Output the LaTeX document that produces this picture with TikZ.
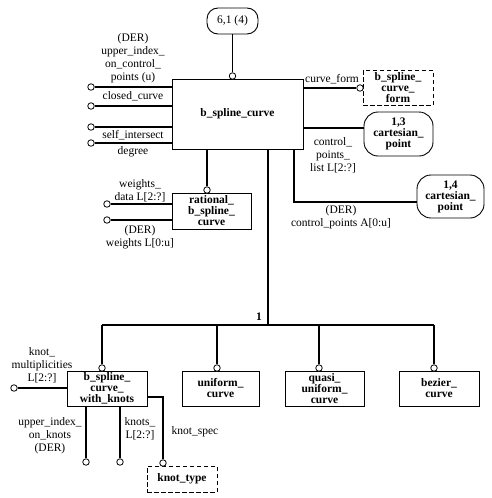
\documentclass[tikz,border=0pt]{standalone}
\usepackage{fontspec}
\setmainfont{Liberation Serif}

\tikzset{
  ent/.style={draw, line width=0.9pt, inner sep=0pt, align=center,
    font=\fontsize{11.5}{11}\selectfont\bfseries},
  pageref/.style={ent, rounded corners=14pt},
  seltype/.style={ent, dash pattern=on 4.5pt off 2.5pt},
  oc/.style={circle, draw, line width=0.8pt, fill=white, inner sep=0pt, minimum size=6.5pt},
  lbl/.style={inner sep=0pt, align=center, font=\fontsize{11.5}{13}\selectfont},
  conn/.style={line width=1.1pt},
  tree/.style={line width=1.6pt}
}

\begin{document}
\begin{tikzpicture}[x=1pt,y=-1pt]
\useasboundingbox (0,0) rectangle (491,498);

% entities
\node[ent, minimum width=131pt, minimum height=70pt] (bsc) at (237.5,114) {b\_spline\_curve};
\node[pageref, font=\fontsize{11.5}{11}\selectfont, minimum width=51pt, minimum height=26pt, rounded corners=11pt] (pg61) at (232.5,21) {6,1 (4)};
\node[seltype, minimum width=70pt, minimum height=35pt] (bscf) at (398,87.5) {b\_spline\_\\curve\_\\form};
\node[pageref, minimum width=69pt, minimum height=44pt] (cp13) at (398.5,134) {1,3\\cartesian\_\\point};
\node[pageref, minimum width=67pt, minimum height=43pt] (cp14) at (450.5,196.5) {1,4\\cartesian\_\\point};
\node[ent, minimum width=79pt, minimum height=36pt] (rbsc) at (211.5,211) {rational\_\\b\_spline\_\\curve};
\node[ent, minimum width=80pt, minimum height=35pt] (bscwk) at (107,388.5) {b\_spline\_\\curve\_\\with\_knots};
\node[ent, minimum width=77pt, minimum height=35pt] (uc) at (220.5,388.5) {uniform\_\\curve};
\node[ent, minimum width=79pt, minimum height=35pt] (quc) at (324.5,388.5) {quasi\_\\uniform\_\\curve};
\node[ent, minimum width=80pt, minimum height=35pt] (bc) at (439,388.5) {bezier\_\\curve};
\node[seltype, minimum width=70pt, minimum height=26pt] (kt) at (182,479) {knot\_type};

% relationship circles
\node[oc] (otop) at (232.5,76) {};
\node[oc] (oa1) at (91,87) {};
\node[oc] (oa2) at (91,106) {};
\node[oc] (oa3) at (91,127) {};
\node[oc] (oa4) at (91,143) {};
\node[oc] (ocf) at (360,88) {};
\node[oc] (orat) at (207,190) {};
\node[oc] (ow1) at (107,204) {};
\node[oc] (ow2) at (107,220) {};
\node[oc] (os1) at (102,368) {};
\node[oc] (os2) at (217,368) {};
\node[oc] (os3) at (319,368) {};
\node[oc] (os4) at (434,368) {};
\node[oc] (ok1) at (14,388) {};
\node[oc] (ok2) at (86,462) {};
\node[oc] (ok3) at (120,462) {};
\node[oc] (ok4) at (163,463) {};
\coordinate (jn) at (268,325);

% connectors
\draw[conn] (pg61) -- (otop);
\foreach \o in {oa1,oa2,oa3,oa4}
  \draw[conn] (\o) -- (\o -| bsc.west);
\draw[conn] (bsc.east |- ocf) -- (ocf);
\draw[conn] (bsc.east |- 0,128) -- (cp13.west |- 0,128);
\draw[conn] (bsc.south -| 294,0) |- ([yshift=-5.5pt]cp14.west);
\draw[conn] (bsc.south -| orat) -- (orat);
\draw[conn] (ow1) -- (ow1 -| rbsc.west);
\draw[conn] (ow2) -- (ow2 -| rbsc.west);
\draw[tree] (bsc.south -| jn) -- (jn);
\draw[tree] (os1 |- jn) -- (os4 |- jn);
\foreach \o in {os1,os2,os3,os4}
  \draw[tree] (\o |- jn) -- (\o);
\draw[conn] (ok1) -- (ok1 -| bscwk.west);
\draw[conn] (bscwk.south -| ok2) -- (ok2);
\draw[conn] (bscwk.south -| ok3) -- (ok3);
\draw[conn] ([yshift=-8.5pt]bscwk.east) -| (ok4);

% labels
\node[lbl, anchor=south] (luic) at (133,83) {(DER)\\upper\_index\_\\on\_control\_\\points (u)};
\node[lbl] (lcc) at (133,96) {closed\_curve};
\node[lbl] (lsi) at (133,135) {self\_intersect};
\node[lbl] (ldeg) at (133,152) {degree};
\node[lbl] (lcf) at (332,79) {curve\_form};
\node[lbl] (lcpl) at (333,155) {control\_\\points\_\\list L[2:?]};
\node[lbl] (lcpa) at (341,217.5) {(DER)\\control\_points A[0:u]};
\node[lbl] (lwd) at (140,190.5) {weights\_\\data L[2:?]};
\node[lbl] (lw) at (140,237) {(DER)\\weights L[0:u]};
\node[lbl, font=\fontsize{11.5}{13}\selectfont\bfseries] (lone) at (259,317) {1};
\node[lbl] (lkm) at (42,365) {knot\_\\multiplicities\\L[2:?]};
\node[lbl] (luik) at (50,436) {upper\_index\_\\on\_knots\\(DER)};
\node[lbl] (lkn) at (140,429) {knots\_\\L[2:?]};
\node[lbl] (lks) at (195,432) {knot\_spec};
\end{tikzpicture}
\end{document}
